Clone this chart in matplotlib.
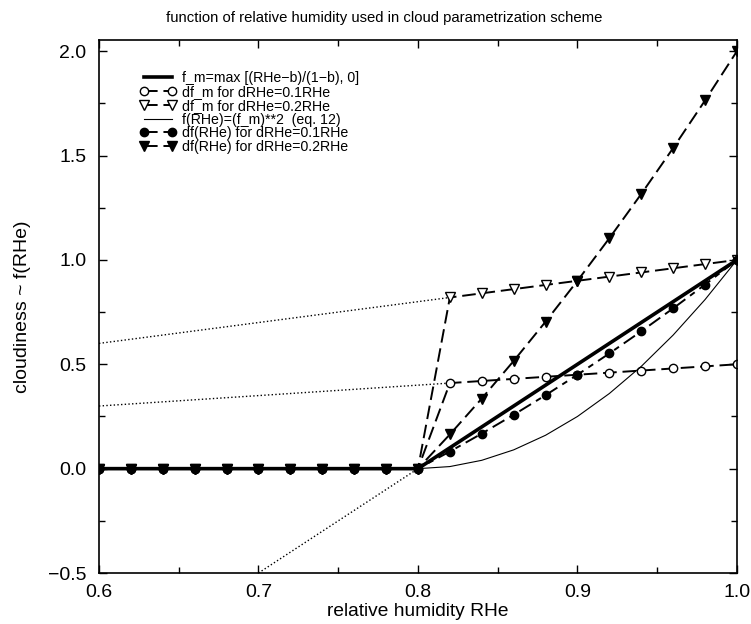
import matplotlib
matplotlib.use('Agg')
import matplotlib.pyplot as plt
from matplotlib.ticker import MultipleLocator, FuncFormatter

plt.rcParams['font.family'] = ['Liberation Sans', 'DejaVu Sans']

# valores (passo 0.02 em RHe)
rhe = [0.60, 0.62, 0.64, 0.66, 0.68, 0.70, 0.72, 0.74, 0.76, 0.78, 0.80,
       0.82, 0.84, 0.86, 0.88, 0.90, 0.92, 0.94, 0.96, 0.98, 1.00]
zeros = [0.0] * 11
f_m = zeros + [0.1, 0.2, 0.3, 0.4, 0.5, 0.6, 0.7, 0.8, 0.9, 1.0]
df_m_01 = zeros + [0.41, 0.42, 0.43, 0.44, 0.45, 0.46, 0.47, 0.48, 0.49, 0.50]
df_m_02 = zeros + [0.82, 0.84, 0.86, 0.88, 0.90, 0.92, 0.94, 0.96, 0.98, 1.00]
f_sq = zeros + [0.01, 0.04, 0.09, 0.16, 0.25, 0.36, 0.49, 0.64, 0.81, 1.00]
df_01 = zeros + [0.082, 0.168, 0.258, 0.352, 0.45, 0.552, 0.658, 0.768, 0.882, 1.00]
df_02 = zeros + [0.164, 0.336, 0.516, 0.704, 0.90, 1.104, 1.316, 1.536, 1.764, 2.00]

# prolongamentos pontilhados
ext_x = [0.6, 0.82]
ext_01 = [0.3, 0.41]
ext_02 = [0.6, 0.82]
ext_fm_x = [0.7, 0.8]
ext_fm = [-0.5, 0.0]

fig = plt.figure(figsize=(7.51, 6.24), dpi=100)
ax = fig.add_axes([0.1318, 0.0817, 0.8495, 0.854])

ax.plot(ext_x, ext_01, color='black', linestyle=':', linewidth=1.0)
ax.plot(ext_x, ext_02, color='black', linestyle=':', linewidth=1.0)
ax.plot(ext_fm_x, ext_fm, color='black', linestyle=':', linewidth=1.0)

ax.plot(rhe, f_m, color='black', linewidth=2.6,
        label='f_m=max [(RHe\u2212b)/(1\u2212b), 0]')
ax.plot(rhe, df_m_01, color='black', linewidth=1.4, dashes=(7, 3),
        marker='o', markersize=6, markerfacecolor='white',
        markeredgecolor='black', label='df_m for dRHe=0.1RHe')
ax.plot(rhe, df_m_02, color='black', linewidth=1.4, dashes=(7, 3),
        marker='v', markersize=7, markerfacecolor='white',
        markeredgecolor='black', label='df_m for dRHe=0.2RHe')
ax.plot(rhe, f_sq, color='black', linewidth=0.8,
        label='f(RHe)=(f_m)**2  (eq. 12)')
ax.plot(rhe, df_01, color='black', linewidth=1.4, dashes=(7, 3, 3, 3),
        marker='o', markersize=6, markerfacecolor='black',
        markeredgecolor='black', label='df(RHe) for dRHe=0.1RHe')
ax.plot(rhe, df_02, color='black', linewidth=1.4, dashes=(7, 3),
        marker='v', markersize=7, markerfacecolor='black',
        markeredgecolor='black', label='df(RHe) for dRHe=0.2RHe')

ax.set_xlim(0.6, 1.0)
ax.set_ylim(-0.5, 2.053)
ax.xaxis.set_major_locator(MultipleLocator(0.1))
ax.xaxis.set_minor_locator(MultipleLocator(0.05))
ax.yaxis.set_major_locator(MultipleLocator(0.5))
ax.yaxis.set_minor_locator(MultipleLocator(0.25))
fmt = FuncFormatter(lambda v, pos: f'{v:.1f}'.replace('-', '\u2212'))
ax.xaxis.set_major_formatter(fmt)
ax.yaxis.set_major_formatter(fmt)
ax.tick_params(which='both', direction='in', top=True, right=True,
               labelsize=14, width=1.0)
ax.tick_params(which='major', length=6)
ax.tick_params(which='minor', length=4)
ax.tick_params(axis='x', which='major', pad=8)
ax.tick_params(axis='y', which='major', pad=9)
for sp in ax.spines.values():
    sp.set_linewidth(1.2)

ax.set_xlabel('relative humidity RHe', fontsize=13.8, labelpad=1)
ax.set_ylabel('cloudiness ~ f(RHe)', fontsize=14, labelpad=12)
fig.text(0.511, 0.971, 'function of relative humidity used in cloud parametrization scheme',
         ha='center', va='center', fontsize=10.7)

leg = ax.legend(loc='upper left', bbox_to_anchor=(0.055, 0.952), frameon=False,
                fontsize=10.2, numpoints=2, handlelength=2.6, handletextpad=0.35,
                labelspacing=-0.02, borderaxespad=0)

fig.savefig('out.png', dpi=100)
